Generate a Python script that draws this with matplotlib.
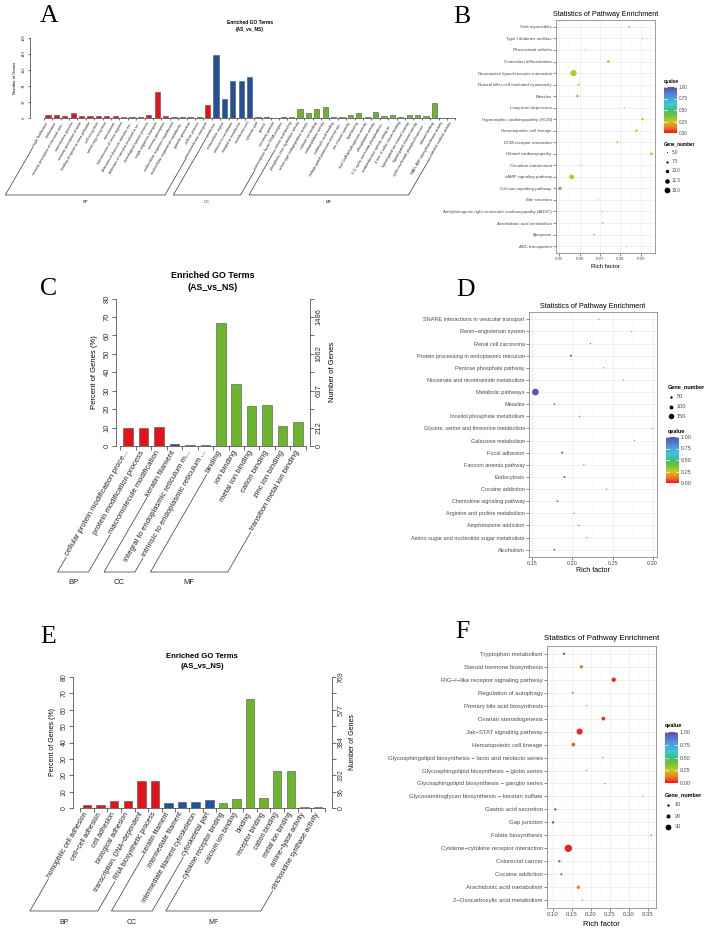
import matplotlib
matplotlib.use('Agg')
import matplotlib.pyplot as plt
import numpy as np
from matplotlib.colors import LinearSegmentedColormap, Normalize
from matplotlib.colorbar import ColorbarBase
from matplotlib.ticker import MultipleLocator, FormatStrFormatter

W, H = 712, 933
plt.rcParams['font.family'] = ['Liberation Sans', 'DejaVu Sans']

# ---------------- A : GO terms ----------------
a_bp_terms = ['single fertilization', 'fertilization', 'sensory perception of chemical stim...',
              'reproductive process', 'sensory perception of taste', 'binding of sperm to zona pellucida',
              'cell recognition', 'sperm-egg recognition', 'reproduction', 'transmission of nerve impulse',
              'detection of chemical stimulus inv...', 'detection of stimulus involved in se...',
              'neurological system process', 'single-organism transport', 'sensory perception',
              'multicellular organism reproduction', 'multicellular organismal reproductiv...',
              'gamete generation', 'cellular process', 'transmembrane transport']
a_bp_vals = [6, 6, 5, 11, 5, 5, 5, 5, 5, 2, 2, 2, 6, 60, 5, 2, 2, 2, 2, 30]
a_cc_terms = ['membrane', 'extracellular region', 'intrinsic to membrane', 'integral to membrane',
              'membrane part', 'cytosolic part', 'cytosol', 'secretory granule',
              'transcription factor TFIIA complex']
a_cc_vals = [147, 45, 87, 87, 96, 3, 3, 1, 2]
a_mf_terms = ['amino acid binding', 'phosphoric ester hydrolase activity', 'serine-type endopeptidase activity',
              'calcium ion binding', 'endopeptidase activity', 'carboxylic acid binding',
              'voltage-gated potassium channel act...', 'ion channel activity', 'lipid binding',
              'acyl-CoA dehydrogenase activity', 'phosphatase activity',
              "3',5'-cyclic-nucleotide phosphodiest...", 'oxidoreductase activity, acting on ...',
              '4 iron, 4 sulfur cluster binding', 'ligand-gated ion channel activity',
              'ligand-gated channel activity', 'cyclic-nucleotide phosphodiesterase ...',
              'odorant binding', 'NAD+ ADP-ribosyltransferase activity', 'catechol oxidase activity']
a_mf_vals = [3, 20, 11, 22, 25, 3, 3, 8, 11, 3, 13, 4, 6, 2, 8, 8, 4, 36, 1, 1]
a_yticks = [0, 37.2, 74.4, 111.6, 148.8, 186]
a_ytick_labels = ['0', '37', '74', '112', '149', '186']

# ---------------- C : GO terms ----------------
c_bp_terms = ['cellular protein modification proce...', 'protein modification process',
              'macromolecule modification']
c_bp_vals = [9.7, 9.7, 10.3]
c_cc_terms = ['keratin filament', 'integral to endoplasmic reticulum m...',
              'intrinsic to endoplasmic reticulum ...']
c_cc_vals = [1.0, 0.7, 0.7]
c_mf_terms = ['binding', 'ion binding', 'metal ion binding', 'cation binding', 'zinc ion binding',
              'transition metal ion binding']
c_mf_vals = [66.5, 33.8, 21.9, 22.0, 11.0, 13.2]
pct_ticks = [0, 10, 20, 30, 40, 50, 60, 70, 80]
pct_labels = ['0', '10', '20', '30', '40', '50', '60', '70', '80']
c_gene_labels = ['0', '212', '', '637', '', '1062', '', '1486', '']

# ---------------- E : GO terms ----------------
e_bp_terms = ['homophilic cell adhesion', 'cell\u2212cell adhesion', 'cell adhesion', 'biological adhesion',
              'transcription, DNA\u2212dependent', 'RNA biosynthetic process']
e_bp_vals = [2.0, 2.0, 4.1, 4.1, 16.3, 16.3]
e_cc_terms = ['keratin filament', 'intermediate filament', 'intermediate filament cytoskeleton',
              'cytoskeletal part']
e_cc_vals = [3.1, 3.9, 3.9, 4.9]
e_mf_terms = ['cytokine receptor binding', 'calcium ion binding', 'binding', 'receptor binding',
              'cation binding', 'metal ion binding', 'amine\u2212lyase activity',
              'strictosidine synthase activity']
e_mf_vals = [2.9, 5.5, 66.7, 6.3, 22.4, 22.4, 0.4, 0.4]
e_gene_labels = ['0', '96', '192', '', '384', '', '577', '', '769']

# ---------------- B : pathway enrichment ----------------
b_terms = ['Viral myocarditis', 'Type I diabetes mellitus', 'Rheumatoid arthritis',
           'Osteoclast differentiation', 'Neuroactive ligand-receptor interaction',
           'Natural killer cell mediated cytotoxicity', 'Measles', 'Long-term depression',
           'Hypertrophic cardiomyopathy (HCM)', 'Hematopoietic cell lineage', 'ECM-receptor interaction',
           'Dilated cardiomyopathy', 'Circadian entrainment', 'cAMP signaling pathway',
           'Calcium signaling pathway', 'Bile secretion',
           'Arrhythmogenic right ventricular cardiomyopathy (ARVC)', 'Arachidonic acid metabolism',
           'Apoptosis', 'ABC transporters']
b_rich = [0.0844, 0.0908, 0.0628, 0.0741, 0.0570, 0.0595, 0.0589, 0.0820, 0.0908, 0.0879,
          0.0785, 0.0952, 0.0610, 0.0561, 0.0503, 0.0695, 0.0713, 0.0713, 0.0670, 0.0831]
b_qval = [0.35, 0.45, 0.45, 0.26, 0.27, 0.35, 0.33, 0.38, 0.25, 0.26,
          0.30, 0.25, 0.45, 0.28, 0.45, 0.40, 0.42, 0.38, 0.42, 0.45]
b_genes = [6, 5, 5, 9, 16, 7, 8, 5, 8, 8, 7, 9, 5, 13, 10, 5, 5, 6, 6, 5]
b_legend_vals = [5, 7.5, 10, 12.5, 15]
b_legend_labels = ['5.0', '7.5', '10.0', '12.5', '15.0']

# ---------------- D : pathway enrichment ----------------
d_terms = ['SNARE interactions in vesicular transport', 'Renin\u2212angiotensin system', 'Renal cell carcinoma',
           'Protein processing in endoplasmic reticulum', 'Pentose phosphate pathway',
           'Nicotinate and nicotinamide metabolism', 'Metabolic pathways', 'Measles',
           'Inositol phosphate metabolism', 'Glycine, serine and threonine metabolism',
           'Galactose metabolism', 'Focal adhesion', 'Fanconi anemia pathway', 'Endocytosis',
           'Cocaine addiction', 'Chemokine signaling pathway', 'Arginine and proline metabolism',
           'Amphetamine addiction', 'Amino sugar and nucleotide sugar metabolism', 'Alcoholism']
d_rich = [0.2329, 0.2738, 0.2225, 0.1979, 0.2388, 0.2633, 0.1538, 0.1775, 0.2088, 0.2992,
          0.2775, 0.1871, 0.2142, 0.1900, 0.2425, 0.1813, 0.2021, 0.2079, 0.2183, 0.1775]
d_qval = [1.0, 1.0, 1.0, 0.98, 1.0, 1.0, 0.97, 1.0, 1.0, 1.0,
          1.0, 0.98, 1.0, 0.98, 1.0, 1.0, 1.0, 1.0, 1.0, 1.0]
d_genes = [7, 4, 12, 35, 5, 5, 190, 25, 10, 5, 5, 35, 8, 35, 6, 25, 9, 10, 8, 25]
d_legend_vals = [50, 100, 150]
d_legend_labels = ['50', '100', '150']

# ---------------- F : pathway enrichment ----------------
f_terms = ['Tryptophan metabolism', 'Steroid hormone biosynthesis', 'RIG\u2212I\u2212like receptor signaling pathway',
           'Regulation of autophagy', 'Primary bile acid biosynthesis', 'Ovarian steroidogenesis',
           'Jak\u2212STAT signaling pathway', 'Hematopoietic cell lineage',
           'Glycosphingolipid biosynthesis \u2212 lacto and neolacto series',
           'Glycosphingolipid biosynthesis \u2212 globo series',
           'Glycosphingolipid biosynthesis \u2212 ganglio series',
           'Glycosaminoglycan biosynthesis \u2212 keratan sulfate', 'Gastric acid secretion', 'Gap junction',
           'Folate biosynthesis', 'Cytokine\u2212cytokine receptor interaction', 'Colorectal cancer',
           'Cocaine addiction', 'Arachidonic acid metabolism', '2\u2212Oxocarboxylic acid metabolism']
f_rich = [0.129, 0.1746, 0.2596, 0.152, 0.1886, 0.2325, 0.170, 0.1535, 0.2316, 0.1877,
          0.2368, 0.3368, 0.1061, 0.100, 0.358, 0.1404, 0.1167, 0.122, 0.1667, 0.177]
f_qval = [0.95, 0.12, 0.02, 0.95, 0.9, 0.03, 0.02, 0.08, 0.2, 0.9,
          0.6, 0.15, 0.95, 0.95, 0.1, 0.01, 0.95, 0.95, 0.12, 0.8]
f_genes = [10, 16, 22, 6, 4, 18, 32, 18, 6, 4, 5, 5, 10, 11, 5, 39, 10, 8, 16, 4]
f_legend_vals = [10, 20, 30]
f_legend_labels = ['10', '20', '30']

q_ticks = [0, 0.25, 0.5, 0.75, 1.0]
q_tick_labels = ['0.00', '0.25', '0.50', '0.75', '1.00']

go_colors = {'BP': '#E3121B', 'CC': '#20509E', 'MF': '#6CB52D'}
qcmap = LinearSegmentedColormap.from_list('q', [
    (0.0, '#F0141E'), (0.12, '#F47A20'), (0.25, '#C2CC1E'), (0.38, '#72C03A'), (0.5, '#3EBE78'),
    (0.62, '#3CC8D0'), (0.78, '#4A9CE0'), (0.9, '#5570C8'), (1.0, '#5B4EA6')])

PT = 0.72  # points per pixel at 100 dpi

fig = plt.figure(figsize=(W / 100, H / 100), dpi=100)
# overlay in pixel coordinates (y downwards) for free text / brackets / legends
ov = fig.add_axes([0, 0, 1, 1])
ov.set_xlim(0, W)
ov.set_ylim(H, 0)
ov.axis('off')
ov.set_zorder(10)
ov.set_autoscale_on(False)


def rect(x0, y0, x1, y1):
    return [x0 / W, 1 - y1 / H, (x1 - x0) / W, (y1 - y0) / H]


def go_panel(box, groups, ymax, lticks, llabels, rlabels, out_px, fs, fs_term, rot, dy, tick_px):
    x0, y0, x1, y1 = box
    ax = fig.add_axes(rect(*box))
    ax.patch.set_alpha(0)
    terms, vals, cols, spans = [], [], [], []
    for name, t, v in groups:
        spans.append((name, len(terms), len(terms) + len(t) - 1))
        terms += t
        vals += v
        cols += [go_colors[name]] * len(t)
    n = len(terms)
    ax.bar(np.arange(n), vals, width=0.62, color=cols, edgecolor='#505050', linewidth=0.4)
    ax.set_xlim(-0.5, n - 0.5)
    ax.set_ylim(0, ymax)
    for s in ('top', 'right'):
        ax.spines[s].set_visible(False)
    for s in ('left', 'bottom'):
        ax.spines[s].set_linewidth(0.5)
        ax.spines[s].set_color('#333333')
    ax.spines['left'].set_position(('outward', out_px * PT))
    ax.set_xticks(np.arange(n + 1) - 0.5)
    ax.set_xticklabels([])
    ax.set_yticks(lticks)
    ax.set_yticklabels(llabels, rotation=90, va='center', fontsize=fs, color='#333333')
    ax.tick_params(length=tick_px * PT, width=0.5, color='#333333', pad=1.2)
    if rlabels:
        ax2 = ax.twinx()
        ax2.set_ylim(0, ymax)
        for s in ('top', 'left', 'bottom'):
            ax2.spines[s].set_visible(False)
        ax2.spines['right'].set_position(('outward', out_px * PT))
        ax2.spines['right'].set_linewidth(0.5)
        ax2.spines['right'].set_color('#333333')
        ax2.set_yticks(lticks)
        ax2.set_yticklabels(rlabels, rotation=90, va='center', fontsize=fs, color='#333333')
        ax2.tick_params(length=tick_px * PT, width=0.5, color='#333333', pad=1.2)
    step = (x1 - x0) / n
    txts = []
    for i, t in enumerate(terms):
        txts.append(ov.text(x0 + (i + 0.5) * step - 0.5, y1 + dy, t, rotation=rot, rotation_mode='anchor',
                            ha='right', va='center', fontsize=fs_term, color='#222222'))
    return spans, txts


def brackets(spans, txts, rot, br_y, grp_y, fs_grp, gap):
    renderer = fig.canvas.get_renderer()
    c, s = np.cos(np.radians(rot)), np.sin(np.radians(rot))
    for name, i0, i1 in spans:
        ends = []
        for i in (i0, i1):
            t = txts[i]
            px, py = t.get_position()
            L = renderer.get_text_width_height_descent(t.get_text(), t.get_fontproperties(), ismath=False)[0]
            sx, sy = px - (L + gap) * c, py + (L + gap) * s
            k = (br_y - sy) / s
            ends.append((sx, sy, sx - k * c))
        (sx0, sy0, ex0), (sx1, sy1, ex1) = ends
        ov.plot([sx0, ex0, ex1, sx1], [sy0, br_y, br_y, sy1], color='#333333', lw=0.5)
        ov.text((ex0 + ex1) / 2, grp_y, name, ha='center', va='center', fontsize=fs_grp, color='#222222')


def path_panel(box, terms, rich, qval, genes, xlim, xstep, fs_y, fs_x, dmin, dmax):
    ax = fig.add_axes(rect(*box))
    n = len(terms)
    ypos = np.arange(n)[::-1]
    g = np.asarray(genes, float)
    lo, hi = g.min(), g.max()

    def diam(v):
        return dmin + (dmax - dmin) * (np.asarray(v, float) - lo) / (hi - lo)

    ax.scatter(rich, ypos, s=(diam(g) * PT) ** 2, c=qval, cmap=qcmap, norm=Normalize(0, 1),
               linewidths=0, zorder=3)
    ax.set_xlim(*xlim)
    ax.set_ylim(-0.6, n - 0.4)
    ax.set_yticks(ypos)
    ax.set_yticklabels(terms)
    ax.xaxis.set_major_locator(MultipleLocator(xstep))
    ax.xaxis.set_minor_locator(MultipleLocator(xstep / 2))
    ax.xaxis.set_major_formatter(FormatStrFormatter('%.2f'))
    ax.grid(which='major', color='#EBEBEB', lw=0.5)
    ax.grid(which='minor', axis='x', color='#F4F4F4', lw=0.3)
    ax.set_axisbelow(True)
    ax.tick_params(which='major', length=2, width=0.4, color='#333333', pad=1, labelcolor='#4D4D4D')
    ax.tick_params(axis='x', labelsize=fs_x)
    ax.tick_params(axis='y', labelsize=fs_y)
    ax.tick_params(which='minor', length=0)
    for sp in ax.spines.values():
        sp.set_color('#8C8C8C')
        sp.set_linewidth(0.6)
    return diam


def qbar(box, fs, title_xy):
    cax = fig.add_axes(rect(*box))
    cb = ColorbarBase(cax, cmap=qcmap, norm=Normalize(0, 1), ticks=q_ticks)
    cb.outline.set_visible(False)
    cax.set_yticklabels(q_tick_labels, fontsize=fs, color='#4D4D4D')
    cax.tick_params(length=0, pad=1.5)
    for t in q_ticks:
        cax.plot([0, 0.2], [t, t], color='white', lw=0.5)
        cax.plot([0.8, 1], [t, t], color='white', lw=0.5)
    ov.text(title_xy[0], title_xy[1], 'qvalue', fontsize=fs, fontweight='bold', ha='left', va='center')


def size_legend(title_xy, dot_x, lab_x, ys, vals, labels, diam, fs):
    ov.text(title_xy[0], title_xy[1], 'Gene_number', fontsize=fs, fontweight='bold', ha='left', va='center')
    for v, lab, yy in zip(vals, labels, ys):
        ov.scatter([dot_x], [yy], s=(float(diam(v)) * PT) ** 2, color='black', linewidths=0)
        ov.text(lab_x, yy, lab, fontsize=fs, color='#4D4D4D', ha='left', va='center')


# ---- panel letters ----
for letter, (lx, ly) in zip('ABCDEF', [(49, 16), (462, 17), (49, 289), (466, 290), (48, 637), (462, 632)]):
    ov.text(lx, ly, letter, family=['Liberation Serif', 'DejaVu Serif'], fontsize=18.5, ha='center', va='center')

# ---- A ----
spA, txA = go_panel((43.8, 38, 455.4, 118),
                    [('BP', a_bp_terms, a_bp_vals), ('CC', a_cc_terms, a_cc_vals), ('MF', a_mf_terms, a_mf_vals)],
                    186, a_yticks, a_ytick_labels, None, 14, 3, 2.6, 60, 4, 2.5)
ov.text(250, 23, 'Enriched GO Terms', fontsize=3.5, fontweight='bold', ha='center', va='center')
ov.text(250, 30, '(AS_vs_NS)', fontsize=3.5, fontweight='bold', ha='center', va='center')
ov.text(15, 78, 'Number of Genes', fontsize=3, rotation=90, ha='center', va='center')

# ---- C ----
spC, txC = go_panel((120.3, 298.5, 305.8, 446),
                    [('BP', c_bp_terms, c_bp_vals), ('CC', c_cc_terms, c_cc_vals), ('MF', c_mf_terms, c_mf_vals)],
                    80, pct_ticks, pct_labels, c_gene_labels, 4, 5.5, 5.5, 60, 5, 4)
ov.text(213, 275, 'Enriched GO Terms', fontsize=6.4, fontweight='bold', ha='center', va='center')
ov.text(213, 287, '(AS_vs_NS)', fontsize=6.4, fontweight='bold', ha='center', va='center')
ov.text(94, 372, 'Percent of Genes (%)', fontsize=5.5, rotation=90, ha='center', va='center')
ov.text(333, 372, 'Number of Genes', fontsize=5.5, rotation=90, ha='center', va='center')

# ---- E ----
spE, txE = go_panel((80.2, 677, 324.8, 808),
                    [('BP', e_bp_terms, e_bp_vals), ('CC', e_cc_terms, e_cc_vals), ('MF', e_mf_terms, e_mf_vals)],
                    80, pct_ticks, pct_labels, e_gene_labels, 7, 5, 4.9, 60, 5, 4)
ov.text(202, 656, 'Enriched GO Terms', fontsize=5.6, fontweight='bold', ha='center', va='center')
ov.text(202, 667, '(AS_vs_NS)', fontsize=5.6, fontweight='bold', ha='center', va='center')
ov.text(53, 742, 'Percent of Genes (%)', fontsize=5, rotation=90, ha='center', va='center')
ov.text(352, 742, 'Number of Genes', fontsize=5, rotation=90, ha='center', va='center')

# ---- B ----
dB = path_panel((556, 20, 655, 253), b_terms, b_rich, b_qval, b_genes, (0.0484, 0.097), 0.01, 3.2, 3.2, 1.0, 6.2)
ov.text(605.5, 14, 'Statistics of Pathway Enrichment', fontsize=5.2, ha='center', va='center')
ov.text(605.5, 267, 'Rich factor', fontsize=4.3, ha='center', va='center')
qbar((664, 87, 677, 133), 3.3, (664, 82))
size_legend((664, 144), 667, 672, [152, 161.5, 171, 180.5, 190], b_legend_vals, b_legend_labels, dB, 3.3)

# ---- D ----
dD = path_panel((529, 312, 657, 557), d_terms, d_rich, d_qval, d_genes, (0.1458, 0.3054), 0.05, 4.0, 4.0, 1.0, 6.7)
ov.text(593, 306, 'Statistics of Pathway Enrichment', fontsize=5.2, ha='center', va='center')
ov.text(593, 571, 'Rich factor', fontsize=5, ha='center', va='center')
size_legend((668, 387), 671, 677, [397, 407, 416], d_legend_vals, d_legend_labels, dD, 4)
qbar((666, 437, 679, 483), 4, (668, 432))

# ---- F ----
dF = path_panel((547, 646, 656, 908), f_terms, f_rich, f_qval, f_genes, (0.0842, 0.371), 0.05, 4.3, 4.3, 1.3, 7.3)
ov.text(601.5, 639, 'Statistics of Pathway Enrichment', fontsize=5.7, ha='center', va='center')
ov.text(601.5, 924, 'Rich factor', fontsize=5.5, ha='center', va='center')
qbar((665, 732, 678, 783), 4, (665, 726))
size_legend((665, 795), 668, 675, [805, 816, 827], f_legend_vals, f_legend_labels, dF, 4)

# brackets need text extents
fig.canvas.draw()
brackets(spA, txA, 60, 195, 202, 3, 1.5)
brackets(spC, txC, 60, 572, 583, 5.5, 2)
brackets(spE, txE, 60, 911, 922, 5, 2)

fig.savefig('out.png', dpi=100)
